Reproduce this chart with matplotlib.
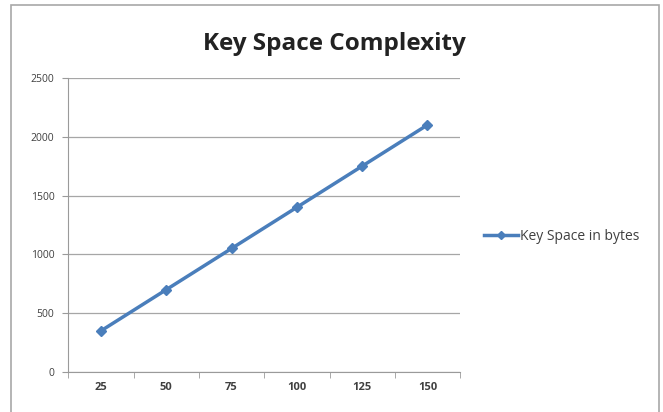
import matplotlib
matplotlib.use("Agg")
import matplotlib.pyplot as plt
from matplotlib.patches import Rectangle

# chart data
categories = ["25", "50", "75", "100", "125", "150"]
key_space = [350, 700, 1050, 1400, 1750, 2100]
yticks = [0, 500, 1000, 1500, 2000, 2500]

plt.rcParams['font.family'] = ['Open Sans', 'DejaVu Sans']

fig = plt.figure(figsize=(6.63, 4.12), dpi=100)
ax = fig.add_axes([0.103, 0.097, 0.591, 0.714])

x = list(range(len(categories)))
ax.plot(x, key_space, color="#4A7EBB", linewidth=2.5, marker="D",
        markersize=5.5, label="Key Space in bytes")

ax.set_xlim(-0.5, len(categories) - 0.5)
ax.set_ylim(0, 2500)
ax.set_yticks(yticks)
ax.set_yticklabels([str(v) for v in yticks], fontsize=7.5, color="#404040")
ax.set_xticks(x)
ax.set_xticklabels(categories, fontsize=8, color="#404040", fontweight="bold")
ax.tick_params(axis="x", length=0, pad=7)
ax.tick_params(axis="y", length=4, color="#9a9a9a", pad=6)
# boundary ticks between categories
ax.set_xticks([i - 0.5 for i in range(len(categories) + 1)], minor=True)
ax.tick_params(axis="x", which="minor", length=4, color="#9a9a9a")

ax.grid(axis="y", color="#a6a6a6", linewidth=0.9)
ax.set_axisbelow(True)
for side in ["top", "right"]:
    ax.spines[side].set_visible(False)
ax.spines["left"].set_color("#9a9a9a")
ax.spines["bottom"].set_color("#9a9a9a")

fig.text(0.505, 0.893, "Key Space Complexity", fontsize=17.5, fontweight="bold",
         ha="center", va="center", color="#222222")

leg = ax.legend(loc="center left", bbox_to_anchor=(1.03, 0.46), frameon=False,
                fontsize=10, handlelength=2.4, handletextpad=0.2,
                labelcolor="#404040", markerscale=0.8)

# outer chart border
fig.patches.append(Rectangle((0.016, -0.01), 0.978, 0.998, transform=fig.transFigure,
                             fill=False, edgecolor="#A8A8A8", linewidth=1.2))

fig.savefig("out.png", dpi=100)
